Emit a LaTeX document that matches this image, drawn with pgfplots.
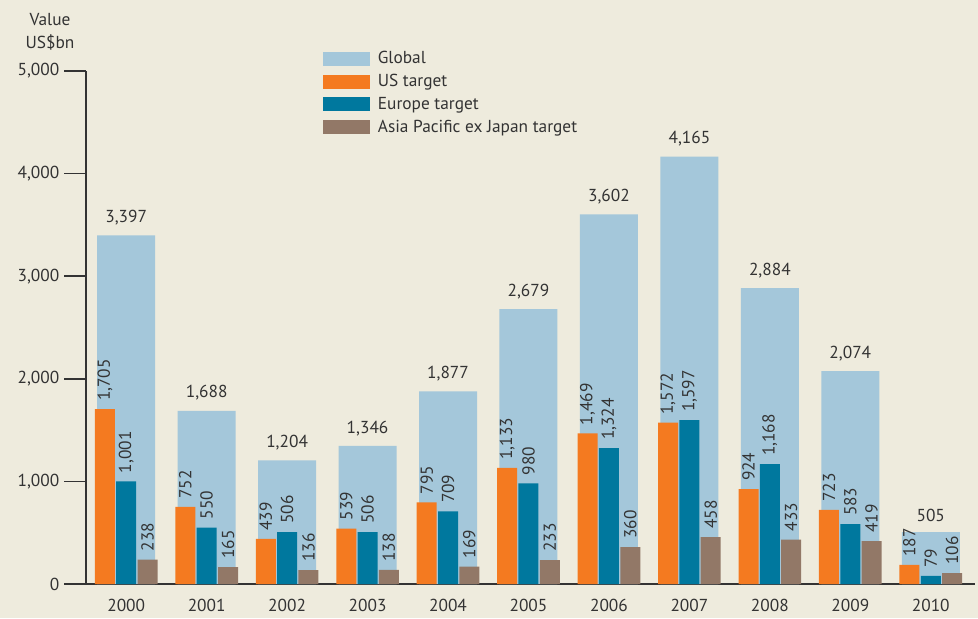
\documentclass[border=0pt]{standalone}
\usepackage{pgfplots}
\pgfplotsset{compat=1.18}
\usepackage{fontspec}
\setmainfont{PT Sans}
\definecolor{bg}{RGB}{238,235,221}
\definecolor{cglobal}{RGB}{164,199,218}
\definecolor{cus}{RGB}{244,122,32}
\definecolor{ceu}{RGB}{0,120,158}
\definecolor{cap}{RGB}{146,120,103}
\definecolor{txt}{RGB}{51,51,51}
\newcommand\ff{\fontsize{13}{15}\selectfont}
\begin{document}
\begin{tikzpicture}
\fill[bg] (0pt,0pt) rectangle (733.5pt,463.5pt);
\useasboundingbox (0pt,0pt) rectangle (733.5pt,463.5pt);
\begin{axis}[
  at={(64.5pt,25.5pt)}, anchor=south west,
  scale only axis, width=666.75pt, height=384.75pt,
  xmin=-0.5, xmax=10.55, ymin=0, ymax=5000,
  clip=false,
  axis x line*=bottom, axis y line*=left,
  axis line style={line width=1.1pt, draw=txt, -},
  xtick={0,...,10},
  xticklabels={2000,2001,2002,2003,2004,2005,2006,2007,2008,2009,2010},
  x tick style={draw=none},
  x tick label style={font=\ff, text=txt, yshift=8.5pt},
  ytick={0,1000,2000,3000,4000,5000},
  scaled y ticks=false,
  y tick label style={font=\ff, text=txt, /pgf/number format/.cd, 1000 sep={,}, assume math mode=true},
  y tick style={line width=1.1pt, draw=txt},
  tick align=outside,
  major tick length=16.5pt,
  sw/.style={legend image code/.code={\path[##1, draw=none] (0pt,-5.25pt) rectangle (35.25pt,5.25pt); \path (39.5pt,0pt);}},
  legend style={at={(rel axis cs:0.266,1.047)}, anchor=north west, draw=none, fill=none,
     inner sep=0pt, row sep=0pt, font=\ff, text=txt,
     nodes={inner sep=1.85pt, text height=10.5pt, text depth=3pt}},
  legend cell align=left,
  small/.style={ybar, draw=none, bar width=15pt, sw, bar shift=#1,
     nodes near coords={\pgfmathprintnumber[assume math mode=true]{\pgfplotspointmeta}},
     every node near coord/.append style={xshift=#1, rotate=90, anchor=west, font=\ff, text=txt, inner sep=0pt, inner xsep=6pt}},
]
\addplot[ybar, fill=cglobal, draw=none, bar width=43.5pt, bar shift=0pt, sw,
  nodes near coords={\pgfmathprintnumber[assume math mode=true]{\pgfplotspointmeta}},
  every node near coord/.append style={anchor=south, font=\ff, text=txt, inner sep=0pt, yshift=7.5pt}]
  coordinates {(0,3397) (1,1688) (2,1204) (3,1346) (4,1877) (5,2679) (6,3602) (7,4165) (8,2884) (9,2074) (10,505)};
\addlegendentry{Global}
\addplot[small=-16pt, fill=cus]
  coordinates {(0,1705) (1,752) (2,439) (3,539) (4,795) (5,1133) (6,1469) (7,1572) (8,924) (9,723) (10,187)};
\addlegendentry{US target}
\addplot[small=0pt, fill=ceu]
  coordinates {(0,1001) (1,550) (2,506) (3,506) (4,709) (5,980) (6,1324) (7,1597) (8,1168) (9,583) (10,79)};
\addlegendentry{Europe target}
\addplot[small=16pt, fill=cap]
  coordinates {(0,238) (1,165) (2,136) (3,138) (4,169) (5,233) (6,360) (7,458) (8,433) (9,419) (10,106)};
\addlegendentry{Asia Pacific ex Japan target}
\node[align=center, font=\fontsize{13}{17.25}\selectfont, text=txt] at (rel axis cs:-0.0405,1.077) {Value\\US\$bn};
\end{axis}
\end{tikzpicture}
\end{document}
